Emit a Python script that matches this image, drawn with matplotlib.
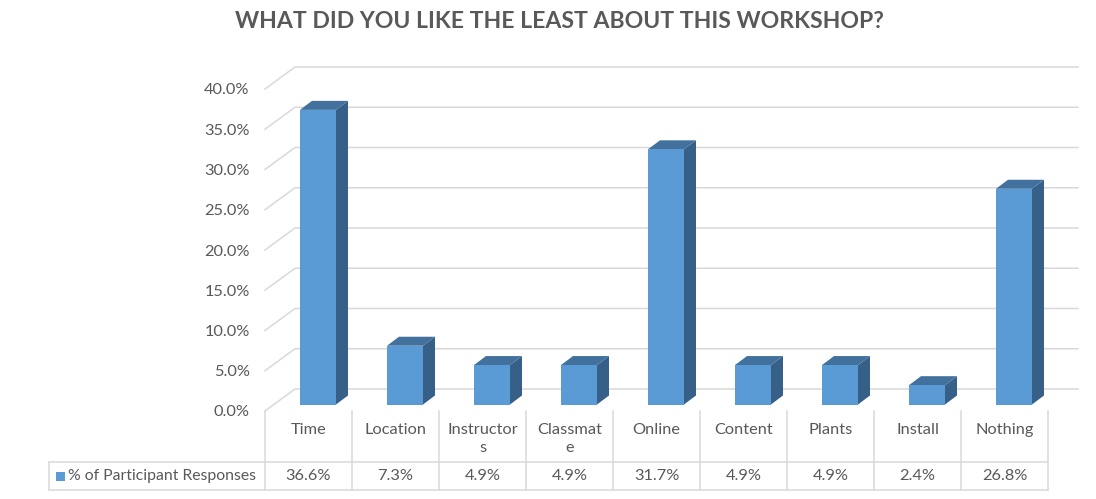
import numpy as np
import matplotlib.pyplot as plt
from matplotlib.patches import Polygon, Rectangle

# survey results
categories = ["Time", "Location", "Instructor\ns", "Classmat\ne", "Online",
              "Content", "Plants", "Install", "Nothing"]
responses = [36.6, 7.3, 4.9, 4.9, 31.7, 4.9, 4.9, 2.4, 26.8]
value_labels = ["36.6%", "7.3%", "4.9%", "4.9%", "31.7%", "4.9%", "4.9%", "2.4%", "26.8%"]
series_name = "% of Participant Responses"
yticks = [0, 5, 10, 15, 20, 25, 30, 35, 40]

TEXT = "#595959"
GRID = "#D9D9D9"
FRONT = "#5B9BD5"
TOP = "#41719C"
SIDE = "#376089"
FONT = "Lato"

W, H = 1096, 499
fig = plt.figure(figsize=(W / 100, H / 100), dpi=100)

# plot box in pixels: x 265..1048, y (from top) 89..411
left_px, right_px, top_px, bot_px = 265, 1048, 89, 411
ax = fig.add_axes([left_px / W, 1 - bot_px / H,
                   (right_px - left_px) / W, (bot_px - top_px) / H])
n = len(categories)
ax.set_xlim(-0.5, n - 0.5)
ax.set_ylim(0, 40)
for s in ax.spines.values():
    s.set_visible(False)
ax.patch.set_visible(False)

ppx = (right_px - left_px) / n      # pixels per category
ppy = (bot_px - top_px) / 40.0      # pixels per percent


def dx(px):
    return px / ppx


def dy(px):
    return px / ppy


# depth of walls and bars
wall_dx, wall_dy = dx(30), dy(22)
bar_dx, bar_dy = dx(12), dy(9)
bar_w = dx(36)
bar_shift = dx(9.5)
bar_base = dy(6.5)

# gridlines on the side and back wall
for v in yticks:
    ax.plot([-0.5, -0.5 + wall_dx, n - 0.5 + wall_dx],
            [v, v + wall_dy, v + wall_dy],
            color=GRID, lw=1.1, clip_on=False, zorder=1)

ax.set_xticks([])
ax.set_yticks(yticks)
ax.set_yticklabels([f"{v:.1f}%" for v in yticks], fontsize=11.8,
                   color=TEXT, family=FONT)
ax.tick_params(axis="y", length=0, pad=11)

# 3D-looking columns
for i, v in enumerate(responses):
    c = i + bar_shift
    l, r = c - bar_w / 2, c + bar_w / 2
    b, t = bar_base, bar_base + v
    side = Polygon([(r, b), (r + bar_dx, b + bar_dy), (r + bar_dx, t + bar_dy), (r, t)],
                   closed=True, fc=SIDE, ec="none", clip_on=False, zorder=3)
    top = Polygon([(l, t), (l + bar_dx, t + bar_dy), (r + bar_dx, t + bar_dy), (r, t)],
                  closed=True, fc=TOP, ec="none", clip_on=False, zorder=3)
    front = Rectangle((l, b), bar_w, v, fc=FRONT, ec="none", clip_on=False, zorder=4)
    for p in (side, top, front):
        ax.add_patch(p)

# data table under the plot
row1 = -dy(462 - bot_px)
row2 = -dy(490 - bot_px)
table_left = -0.5 - dx(left_px - 49)
tl = dict(color=GRID, lw=1.1, clip_on=False, zorder=1)
for k in range(n + 1):
    ax.plot([k - 0.5, k - 0.5], [0, row2], **tl)
ax.plot([table_left, n - 0.5], [row1, row1], **tl)
ax.plot([table_left, n - 0.5], [row2, row2], **tl)
ax.plot([table_left, table_left], [row1, row2], **tl)

for i, (cat, lab) in enumerate(zip(categories, value_labels)):
    ax.text(i, -dy(12), cat, ha="center", va="top", fontsize=11.8, color=TEXT,
            family=FONT, linespacing=1.4, clip_on=False)
    ax.text(i, (row1 + row2) / 2, lab, ha="center", va="center", fontsize=11.8,
            color=TEXT, family=FONT, clip_on=False)

# legend key in the row header
ax.add_patch(Rectangle((table_left + dx(7), (row1 + row2) / 2 - dy(4.5)), dx(9), dy(9),
                       fc=FRONT, ec="none", clip_on=False))
ax.text(table_left + dx(19), (row1 + row2) / 2, series_name, ha="left", va="center",
        fontsize=11.3, color=TEXT, family=FONT, clip_on=False)

fig.text(559 / W, 1 - 22 / H, "WHAT DID YOU LIKE THE LEAST ABOUT THIS WORKSHOP?",
         ha="center", va="center", fontsize=16.6, fontweight="bold", color=TEXT,
         family=FONT)

fig.savefig("out.png", dpi=100)
